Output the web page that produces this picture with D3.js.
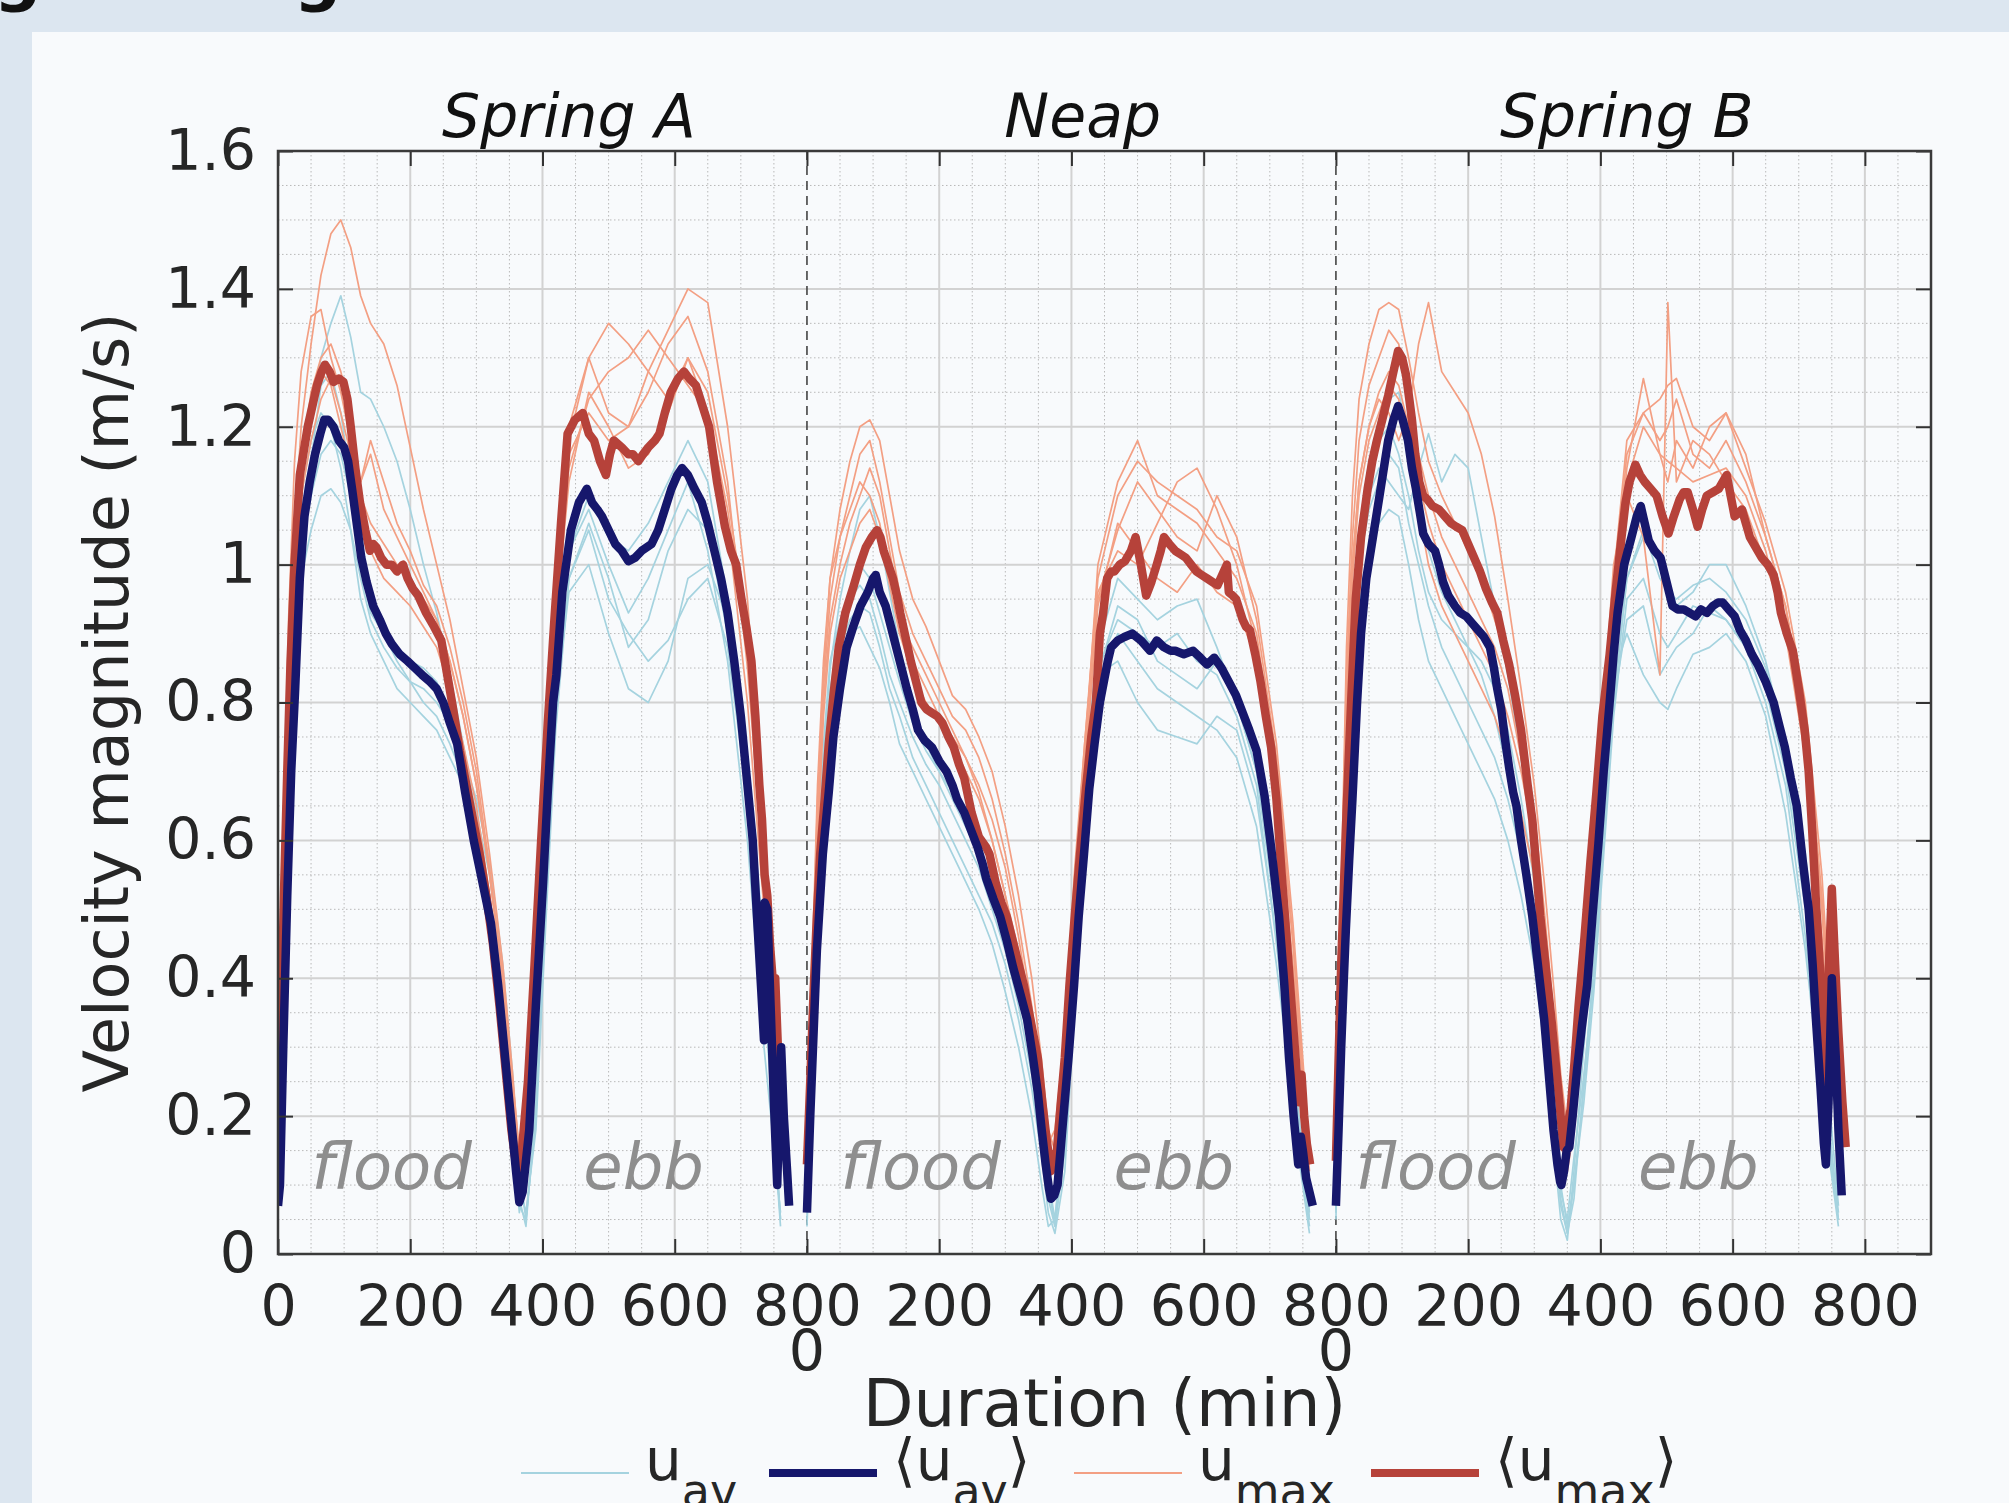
<!DOCTYPE html>
<html>
<head>
<meta charset="utf-8">
<script src="https://cdn.jsdelivr.net/npm/d3@7"></script>
<style>
  html, body { margin: 0; padding: 0; background: #dce6f0; }
  svg { display: block; }
</style>
</head>
<body>
<svg id="chart" width="2009" height="1503"></svg>
<script>
/* Velocity magnitude over a tidal cycle — Spring A / Neap / Spring B */

// ---- data ----
const panelNames = ['Spring A', 'Neap', 'Spring B'];
const panelStart = [0, 800, 1600];          // each panel is laid end to end (min)
const totalMinutes = 2500;
const titleAt = [440, 417, 440];            // local minute under each panel title
const yTicks = [0, 0.2, 0.4, 0.6, 0.8, 1, 1.2, 1.4, 1.6];
const xTickValues = [0, 200, 400, 600, 800, 1000, 1200, 1400, 1600, 1800, 2000, 2200, 2400];
const xTickLabels = ['0', '200', '400', '600', '800', '200', '400', '600', '800', '200', '400', '600', '800'];
const xZeroTicks = [800, 1600];             // second "0" label where panels meet
const phaseLabels = ['flood', 'ebb', 'flood', 'ebb', 'flood', 'ebb'];
const phaseAt = [172, 553, 972, 1355, 1751, 2148];

// mean curves, [local minute, m/s]
const meanAvA = [[0,0.07],[3,0.10],[8,0.30],[14,0.52],[20,0.70],[26,0.82],[33,0.98],[40,1.07],[48,1.12],[56,1.16],[64,1.19],[70,1.21],[76,1.21],[84,1.20],[92,1.18],[100,1.17],[106,1.15],[112,1.11],[119,1.06],[126,1.01],[134,0.975],[144,0.94],[154,0.92],[163,0.90],[172,0.885],[184,0.87],[196,0.86],[207,0.85],[218,0.84],[230,0.83],[240,0.82],[250,0.80],[260,0.77],[271,0.74],[283,0.67],[296,0.60],[309,0.54],[322,0.48],[333,0.39],[343,0.29],[352,0.20],[360,0.12],[365,0.075],[370,0.09],[380,0.18],[390,0.36],[401,0.54],[408,0.67],[416,0.80],[421,0.84],[430,0.96],[443,1.05],[455,1.09],[467,1.11],[475,1.09],[483,1.08],[490,1.07],[500,1.05],[510,1.03],[520,1.02],[530,1.005],[540,1.01],[550,1.02],[565,1.03],[575,1.05],[585,1.08],[595,1.11],[604,1.13],[611,1.14],[620,1.13],[630,1.11],[641,1.09],[650,1.06],[660,1.02],[670,0.98],[680,0.93],[690,0.86],[700,0.78],[710,0.68],[718,0.60],[725,0.48],[731,0.38],[735,0.31],[736,0.51],[740,0.50],[745,0.36],[750,0.22],[755,0.10],[758,0.20],[761,0.30],[765,0.20],[770,0.12],[773,0.07]];
const meanMaxA = [[0,0.14],[4,0.30],[9,0.52],[14,0.70],[19,0.86],[25,1.0],[33,1.13],[45,1.20],[59,1.26],[66,1.28],[71,1.29],[78,1.28],[84,1.265],[92,1.27],[99,1.265],[105,1.24],[110,1.20],[117,1.14],[124,1.09],[132,1.05],[139,1.02],[144,1.03],[149,1.025],[156,1.01],[164,1.0],[172,1.0],[180,0.99],[189,1.0],[196,0.98],[204,0.965],[212,0.955],[224,0.93],[236,0.91],[247,0.89],[256,0.84],[265,0.79],[275,0.73],[285,0.68],[295,0.63],[305,0.58],[315,0.52],[325,0.45],[335,0.36],[345,0.26],[353,0.18],[360,0.13],[364,0.12],[368,0.14],[378,0.25],[388,0.42],[398,0.60],[408,0.77],[418,0.92],[428,1.06],[438,1.19],[449,1.21],[461,1.22],[470,1.19],[478,1.18],[487,1.15],[496,1.13],[502,1.16],[508,1.18],[520,1.17],[530,1.16],[537,1.16],[545,1.15],[552,1.16],[560,1.17],[570,1.18],[577,1.19],[585,1.22],[594,1.25],[605,1.27],[614,1.28],[622,1.27],[632,1.26],[642,1.23],[652,1.20],[664,1.12],[676,1.055],[685,1.02],[693,1.0],[701,0.95],[709,0.905],[716,0.86],[722,0.78],[728,0.68],[732,0.63],[736,0.55],[740,0.52],[744,0.45],[748,0.40],[752,0.40],[756,0.30],[762,0.18],[768,0.14]];

const meanAvB = [[0,0.06],[5,0.20],[10,0.32],[15,0.44],[24,0.58],[33,0.67],[40,0.75],[50,0.82],[60,0.88],[70,0.91],[81,0.94],[92,0.96],[100,0.98],[104,0.985],[110,0.96],[119,0.94],[127,0.91],[135,0.88],[143,0.85],[151,0.82],[160,0.79],[168,0.76],[178,0.745],[189,0.735],[200,0.715],[211,0.70],[220,0.68],[227,0.66],[238,0.64],[248,0.615],[258,0.59],[266,0.565],[271,0.545],[282,0.515],[292,0.49],[302,0.455],[312,0.415],[322,0.38],[333,0.34],[341,0.29],[349,0.235],[355,0.18],[361,0.13],[366,0.095],[369,0.08],[374,0.085],[379,0.10],[387,0.19],[396,0.29],[404,0.39],[411,0.49],[419,0.58],[427,0.675],[435,0.74],[443,0.80],[449,0.83],[455,0.86],[460,0.88],[470,0.89],[480,0.895],[492,0.90],[505,0.89],[519,0.875],[529,0.89],[540,0.88],[550,0.875],[557,0.875],[570,0.87],[584,0.875],[595,0.865],[605,0.855],[616,0.865],[627,0.85],[638,0.83],[649,0.81],[659,0.785],[669,0.76],[680,0.73],[692,0.665],[702,0.59],[714,0.49],[722,0.39],[729,0.285],[736,0.20],[743,0.13],[747,0.17],[750,0.15],[755,0.11],[760,0.09],[765,0.07]];
const meanMaxB = [[0,0.13],[5,0.25],[10,0.38],[15,0.49],[20,0.58],[26,0.65],[33,0.74],[40,0.81],[48,0.88],[58,0.93],[71,0.97],[80,1.0],[89,1.025],[98,1.04],[106,1.05],[111,1.04],[116,1.02],[123,1.0],[130,0.98],[136,0.955],[141,0.93],[149,0.895],[157,0.86],[165,0.83],[173,0.80],[181,0.79],[189,0.785],[197,0.78],[205,0.77],[214,0.75],[222,0.735],[230,0.71],[238,0.69],[249,0.64],[260,0.605],[271,0.59],[276,0.58],[285,0.54],[294,0.51],[302,0.49],[315,0.44],[328,0.39],[338,0.34],[349,0.285],[356,0.22],[362,0.17],[366,0.14],[369,0.12],[373,0.14],[378,0.15],[384,0.22],[390,0.285],[397,0.39],[405,0.49],[413,0.58],[422,0.675],[430,0.75],[437,0.80],[443,0.90],[448,0.93],[454,0.98],[460,0.99],[465,0.99],[473,1.0],[481,1.005],[490,1.02],[497,1.04],[505,1.0],[513,0.955],[521,0.975],[529,1.0],[535,1.02],[540,1.04],[548,1.03],[557,1.02],[565,1.015],[573,1.01],[581,1.0],[589,0.99],[597,0.985],[605,0.98],[613,0.975],[621,0.97],[628,0.985],[635,1.0],[638,0.96],[644,0.955],[649,0.95],[654,0.935],[659,0.92],[664,0.91],[670,0.905],[678,0.87],[686,0.83],[694,0.78],[702,0.735],[710,0.66],[718,0.55],[726,0.45],[733,0.36],[739,0.285],[744,0.22],[748,0.26],[752,0.20],[756,0.16],[761,0.13]];

const meanAvC = [[0,0.07],[4,0.18],[8,0.30],[12,0.40],[15,0.47],[20,0.57],[25,0.66],[32,0.80],[38,0.90],[46,0.98],[56,1.04],[66,1.10],[79,1.18],[87,1.21],[94,1.23],[101,1.21],[109,1.18],[115,1.14],[121,1.11],[127,1.075],[132,1.045],[140,1.03],[150,1.02],[156,1.00],[162,0.975],[170,0.955],[180,0.94],[188,0.93],[197,0.925],[206,0.915],[215,0.905],[224,0.895],[233,0.88],[239,0.85],[244,0.82],[250,0.79],[256,0.745],[262,0.705],[268,0.67],[273,0.65],[280,0.60],[288,0.55],[297,0.49],[306,0.415],[315,0.34],[322,0.26],[329,0.18],[335,0.13],[339,0.105],[341,0.10],[345,0.12],[349,0.15],[353,0.155],[358,0.20],[365,0.27],[372,0.33],[380,0.39],[388,0.49],[397,0.595],[405,0.70],[414,0.80],[420,0.87],[426,0.93],[436,1.00],[447,1.04],[455,1.07],[461,1.085],[467,1.06],[473,1.035],[482,1.02],[491,1.01],[500,0.975],[509,0.94],[517,0.935],[526,0.935],[535,0.93],[544,0.925],[552,0.935],[561,0.93],[570,0.94],[578,0.945],[585,0.945],[594,0.935],[603,0.925],[611,0.905],[620,0.89],[629,0.87],[638,0.855],[650,0.83],[662,0.80],[671,0.765],[679,0.735],[688,0.69],[697,0.65],[706,0.57],[715,0.50],[721,0.42],[726,0.34],[733,0.24],[738,0.16],[741,0.13],[745,0.22],[750,0.40],[753,0.34],[756,0.285],[760,0.18],[765,0.085]];
const meanMaxC = [[0,0.135],[4,0.28],[8,0.42],[12,0.53],[16,0.64],[23,0.80],[30,0.95],[38,1.04],[48,1.11],[55,1.15],[62,1.18],[70,1.21],[79,1.245],[87,1.28],[94,1.31],[100,1.30],[106,1.275],[111,1.24],[115,1.21],[120,1.16],[126,1.12],[132,1.10],[138,1.095],[146,1.085],[156,1.08],[165,1.07],[174,1.06],[182,1.055],[191,1.05],[200,1.03],[209,1.01],[218,0.99],[227,0.965],[236,0.945],[244,0.93],[253,0.89],[262,0.855],[271,0.81],[280,0.76],[290,0.68],[297,0.63],[309,0.49],[318,0.41],[326,0.34],[333,0.27],[339,0.21],[344,0.155],[349,0.18],[355,0.21],[361,0.28],[367,0.36],[376,0.46],[385,0.57],[394,0.67],[403,0.78],[414,0.87],[423,0.96],[432,1.04],[438,1.09],[444,1.12],[453,1.145],[460,1.13],[467,1.12],[476,1.11],[485,1.10],[494,1.07],[503,1.045],[511,1.07],[520,1.095],[526,1.105],[532,1.105],[540,1.08],[547,1.055],[554,1.08],[561,1.10],[570,1.105],[579,1.11],[585,1.12],[591,1.13],[597,1.10],[603,1.07],[609,1.075],[614,1.08],[620,1.06],[626,1.04],[635,1.025],[644,1.01],[653,1.0],[662,0.985],[668,0.96],[673,0.93],[682,0.90],[691,0.875],[700,0.82],[709,0.76],[715,0.70],[720,0.62],[726,0.51],[732,0.415],[737,0.30],[740,0.25],[745,0.40],[750,0.53],[755,0.42],[760,0.32],[766,0.22],[771,0.155]];

// individual runs, sampled on a shared minute grid per panel
const gridAB = [0,8,16,25,35,50,65,80,95,110,125,140,160,180,200,220,240,260,280,300,320,340,355,365,375,390,405,420,440,470,500,530,560,590,620,650,680,710,735,760];
const gridC = [0,8,16,25,35,50,65,80,95,110,125,140,160,180,200,220,240,260,280,300,315,330,340,350,360,375,390,405,420,440,465,490,502,515,540,565,590,620,650,680,710,735,760];

const uavA = [
  [0.10,0.45,0.78,0.98,1.12,1.22,1.30,1.35,1.39,1.33,1.25,1.24,1.20,1.15,1.08,1.00,0.93,0.84,0.74,0.63,0.50,0.35,0.18,0.06,0.12,0.35,0.62,0.85,1.02,1.08,1.00,0.93,0.98,1.05,1.12,1.02,0.86,0.60,0.30,0.06],
  [0.08,0.35,0.65,0.85,0.98,1.05,1.10,1.11,1.09,1.05,0.98,0.92,0.88,0.85,0.83,0.82,0.80,0.77,0.72,0.66,0.57,0.42,0.26,0.12,0.05,0.20,0.50,0.78,0.98,1.05,0.95,0.90,0.86,0.89,0.95,0.98,0.88,0.66,0.40,0.05],
  [0.06,0.40,0.72,0.95,1.10,1.18,1.22,1.20,1.14,1.05,0.95,0.90,0.86,0.82,0.80,0.78,0.76,0.72,0.68,0.60,0.50,0.36,0.20,0.08,0.04,0.22,0.55,0.82,1.02,1.10,1.04,1.02,1.06,1.12,1.18,1.12,0.95,0.72,0.45,0.10],
  [0.09,0.42,0.75,0.93,1.05,1.15,1.26,1.28,1.22,1.12,1.00,0.93,0.90,0.88,0.86,0.85,0.83,0.78,0.72,0.64,0.55,0.40,0.24,0.10,0.06,0.18,0.48,0.76,0.98,1.06,0.98,0.88,0.92,1.02,1.08,1.05,0.90,0.68,0.38,0.04],
  [0.07,0.38,0.70,0.90,1.02,1.10,1.16,1.18,1.16,1.10,1.02,0.95,0.90,0.86,0.83,0.80,0.78,0.74,0.69,0.62,0.52,0.38,0.22,0.07,0.05,0.20,0.52,0.80,0.96,1.00,0.90,0.82,0.80,0.86,0.98,1.00,0.92,0.70,0.40,0.05]
];
const umaxA = [
  [0.16,0.50,0.85,1.05,1.20,1.32,1.42,1.48,1.50,1.46,1.39,1.35,1.32,1.26,1.17,1.08,1.00,0.92,0.82,0.72,0.58,0.42,0.26,0.14,0.20,0.45,0.72,0.98,1.20,1.30,1.22,1.20,1.25,1.32,1.36,1.28,1.12,0.85,0.55,0.15],
  [0.18,0.55,0.92,1.15,1.28,1.36,1.37,1.30,1.25,1.18,1.10,1.06,1.03,1.00,0.98,0.95,0.92,0.86,0.78,0.68,0.55,0.40,0.24,0.12,0.18,0.42,0.70,0.95,1.18,1.30,1.35,1.32,1.28,1.24,1.30,1.22,1.06,0.80,0.50,0.14],
  [0.14,0.45,0.80,1.00,1.12,1.22,1.28,1.26,1.20,1.14,1.12,1.18,1.12,1.06,1.02,0.97,0.94,0.88,0.80,0.70,0.56,0.40,0.25,0.15,0.22,0.46,0.72,0.96,1.16,1.22,1.18,1.20,1.28,1.34,1.40,1.38,1.20,0.95,0.62,0.18],
  [0.15,0.48,0.82,1.02,1.15,1.25,1.30,1.32,1.28,1.22,1.10,1.02,0.98,0.96,0.94,0.91,0.88,0.82,0.74,0.65,0.52,0.38,0.22,0.11,0.16,0.40,0.68,0.92,1.12,1.25,1.20,1.14,1.16,1.22,1.30,1.25,1.10,0.90,0.60,0.16],
  [0.15,0.46,0.78,0.98,1.10,1.18,1.24,1.27,1.22,1.16,1.12,1.16,1.08,1.04,1.00,0.96,0.92,0.86,0.78,0.68,0.55,0.40,0.24,0.13,0.18,0.42,0.70,0.94,1.14,1.24,1.28,1.30,1.34,1.30,1.26,1.22,1.08,0.88,0.58,0.15]
];
const uavB = [
  [0.06,0.30,0.55,0.72,0.85,0.95,1.02,1.08,1.10,1.04,0.96,0.88,0.80,0.74,0.70,0.66,0.62,0.58,0.52,0.46,0.38,0.28,0.18,0.10,0.04,0.15,0.40,0.66,0.85,0.92,0.90,0.88,0.90,0.86,0.84,0.78,0.68,0.45,0.25,0.05],
  [0.05,0.26,0.50,0.68,0.80,0.88,0.92,0.94,0.93,0.88,0.82,0.78,0.72,0.68,0.64,0.60,0.56,0.52,0.48,0.42,0.34,0.24,0.14,0.06,0.03,0.12,0.36,0.62,0.82,0.90,0.86,0.82,0.80,0.78,0.76,0.72,0.62,0.42,0.22,0.04],
  [0.07,0.32,0.58,0.74,0.86,0.92,0.96,1.00,0.98,0.93,0.88,0.83,0.77,0.73,0.70,0.67,0.63,0.59,0.54,0.47,0.40,0.30,0.20,0.11,0.05,0.18,0.44,0.70,0.88,0.98,0.95,0.92,0.94,0.95,0.88,0.80,0.70,0.50,0.28,0.06],
  [0.04,0.24,0.48,0.64,0.78,0.86,0.90,0.91,0.88,0.85,0.80,0.74,0.70,0.66,0.62,0.58,0.54,0.50,0.45,0.38,0.30,0.20,0.10,0.04,0.05,0.20,0.42,0.66,0.84,0.86,0.80,0.76,0.75,0.74,0.78,0.76,0.66,0.46,0.20,0.03],
  [0.06,0.28,0.52,0.70,0.82,0.90,0.95,0.97,0.95,0.90,0.84,0.80,0.75,0.71,0.68,0.64,0.60,0.56,0.50,0.44,0.36,0.26,0.16,0.08,0.04,0.16,0.40,0.64,0.84,0.94,0.92,0.86,0.84,0.82,0.86,0.80,0.70,0.48,0.26,0.05]
];
const umaxB = [
  [0.14,0.40,0.66,0.84,0.98,1.08,1.15,1.20,1.21,1.18,1.10,1.02,0.95,0.91,0.86,0.81,0.79,0.75,0.70,0.62,0.52,0.40,0.28,0.18,0.15,0.30,0.55,0.72,1.00,1.12,1.18,1.10,1.08,1.06,1.02,0.98,0.90,0.70,0.45,0.14],
  [0.12,0.36,0.62,0.80,0.92,1.00,1.06,1.10,1.14,1.10,1.02,0.94,0.86,0.82,0.78,0.75,0.72,0.68,0.63,0.56,0.46,0.34,0.22,0.14,0.12,0.26,0.50,0.70,0.95,1.05,1.12,1.08,1.04,1.02,1.10,1.04,0.92,0.72,0.46,0.12],
  [0.15,0.42,0.68,0.86,0.98,1.04,1.08,1.12,1.10,1.06,0.98,0.92,0.88,0.84,0.80,0.76,0.72,0.67,0.60,0.52,0.42,0.32,0.22,0.16,0.18,0.32,0.56,0.74,0.96,1.02,1.00,1.06,1.12,1.14,1.08,1.00,0.88,0.66,0.40,0.16],
  [0.13,0.38,0.60,0.78,0.90,0.98,1.02,1.06,1.08,1.04,0.97,0.90,0.84,0.80,0.77,0.74,0.70,0.66,0.60,0.52,0.44,0.34,0.24,0.15,0.14,0.28,0.52,0.70,0.94,1.06,1.02,0.98,0.96,1.00,0.96,0.94,0.86,0.68,0.42,0.13],
  [0.14,0.40,0.64,0.82,0.95,1.04,1.10,1.16,1.18,1.12,1.04,0.96,0.90,0.86,0.82,0.78,0.76,0.72,0.66,0.58,0.48,0.36,0.25,0.16,0.14,0.30,0.54,0.74,0.98,1.10,1.15,1.12,1.10,1.08,1.04,1.02,0.94,0.74,0.48,0.15]
];
const uavC = [
  [0.08,0.40,0.72,0.92,1.05,1.15,1.21,1.24,1.25,1.18,1.08,1.02,0.96,0.92,0.88,0.84,0.78,0.70,0.60,0.48,0.34,0.18,0.08,0.03,0.08,0.25,0.42,0.62,0.80,0.98,1.05,0.98,0.96,0.95,0.97,0.98,0.96,0.92,0.85,0.72,0.52,0.28,0.06],
  [0.06,0.36,0.66,0.88,1.00,1.10,1.14,1.12,1.10,1.08,1.14,1.19,1.12,1.16,1.14,1.04,0.94,0.84,0.72,0.58,0.40,0.22,0.10,0.04,0.10,0.22,0.38,0.58,0.78,0.95,0.98,0.90,0.88,0.90,0.94,0.93,0.92,0.88,0.80,0.68,0.46,0.24,0.05],
  [0.07,0.34,0.62,0.82,0.94,1.02,1.06,1.08,1.07,1.00,0.92,0.86,0.82,0.78,0.74,0.70,0.66,0.60,0.52,0.42,0.30,0.15,0.05,0.02,0.12,0.30,0.48,0.68,0.84,0.90,0.84,0.80,0.79,0.82,0.87,0.88,0.90,0.86,0.78,0.64,0.44,0.22,0.04],
  [0.05,0.38,0.70,0.90,1.02,1.12,1.18,1.20,1.16,1.10,1.02,0.96,0.92,0.90,0.88,0.86,0.82,0.76,0.66,0.54,0.36,0.20,0.09,0.05,0.14,0.26,0.40,0.60,0.80,0.98,1.04,1.00,0.98,0.94,0.96,1.00,1.00,0.94,0.86,0.74,0.58,0.34,0.07],
  [0.06,0.36,0.68,0.88,1.00,1.08,1.12,1.16,1.14,1.06,1.00,0.94,0.88,0.84,0.80,0.76,0.72,0.66,0.58,0.48,0.34,0.18,0.07,0.03,0.10,0.24,0.40,0.60,0.80,0.92,0.94,0.84,0.86,0.88,0.90,0.94,0.92,0.88,0.82,0.70,0.50,0.26,0.05]
];
const umaxC = [
  [0.15,0.52,0.88,1.10,1.24,1.32,1.37,1.38,1.37,1.30,1.22,1.15,1.10,1.06,1.02,0.98,0.92,0.86,0.76,0.64,0.50,0.34,0.22,0.15,0.20,0.34,0.50,0.72,0.92,1.12,1.20,1.16,1.15,1.14,1.12,1.13,1.14,1.10,1.02,0.90,0.72,0.46,0.15],
  [0.16,0.48,0.80,1.00,1.12,1.20,1.24,1.22,1.18,1.22,1.32,1.38,1.28,1.25,1.22,1.16,1.07,0.95,0.82,0.68,0.54,0.38,0.26,0.18,0.22,0.36,0.54,0.76,0.98,1.18,1.22,1.24,1.26,1.27,1.20,1.18,1.22,1.14,1.06,0.96,0.80,0.55,0.16],
  [0.14,0.46,0.80,1.00,1.12,1.20,1.25,1.28,1.26,1.20,1.12,1.06,1.00,0.96,0.92,0.88,0.84,0.78,0.70,0.60,0.46,0.30,0.20,0.14,0.22,0.38,0.58,0.80,1.00,1.10,1.04,0.84,1.38,1.12,1.18,1.16,1.12,1.08,1.00,0.92,0.76,0.50,0.17],
  [0.13,0.44,0.78,0.98,1.10,1.18,1.22,1.26,1.24,1.16,1.08,1.00,0.94,0.90,0.86,0.82,0.78,0.72,0.64,0.55,0.44,0.28,0.16,0.12,0.18,0.32,0.52,0.74,0.94,1.14,1.27,1.16,1.12,1.18,1.14,1.20,1.22,1.16,1.04,0.94,0.78,0.52,0.14],
  [0.14,0.50,0.84,1.04,1.18,1.26,1.30,1.34,1.32,1.24,1.16,1.10,1.04,1.00,0.96,0.92,0.88,0.82,0.72,0.62,0.48,0.32,0.20,0.14,0.20,0.34,0.52,0.74,0.96,1.16,1.22,1.18,1.20,1.24,1.16,1.14,1.18,1.12,1.04,0.94,0.78,0.50,0.15]
];

const panels = [
  { grid: gridAB, uav: uavA, umax: umaxA, meanAv: meanAvA, meanMax: meanMaxA },
  { grid: gridAB, uav: uavB, umax: umaxB, meanAv: meanAvB, meanMax: meanMaxB },
  { grid: gridC,  uav: uavC, umax: umaxC, meanAv: meanAvC, meanMax: meanMaxC }
];

// ---- styles ----
const COLORS = {
  uav:     '#a5d3df',
  meanAv:  '#16176c',
  umax:    '#f39f83',
  meanMax: '#b6423a',
  text:    '#262626',
  phase:   '#8e8e8e'
};
const FONT = '"DejaVu Sans", "Liberation Sans", sans-serif';

// ---- layout ----
const W = 2009, H = 1503;
const plot = { left: 278, right: 1931, top: 151, bottom: 1254 };

const svg = d3.select('#chart');

svg.append('rect').attr('width', W).attr('height', H).attr('fill', '#dce6f0');
svg.append('rect').attr('x', 32).attr('y', 32).attr('width', W - 32).attr('height', H - 32)
  .attr('fill', '#f8fafc');

// cut-off page heading (only its descenders reach into view)
svg.append('text').attr('x', -6).attr('y', -2).attr('font-family', FONT)
  .attr('font-weight', 'bold').attr('font-size', 66).attr('fill', '#111').text('g');
svg.append('text').attr('x', 294).attr('y', -2).attr('font-family', FONT)
  .attr('font-weight', 'bold').attr('font-size', 66).attr('fill', '#111').text('g');

const x = d3.scaleLinear().domain([0, totalMinutes]).range([plot.left, plot.right]);
const y = d3.scaleLinear().domain([0, 1.6]).range([plot.bottom, plot.top]);

svg.append('defs').append('clipPath').attr('id', 'plot-clip')
  .append('rect')
  .attr('x', plot.left).attr('y', plot.top)
  .attr('width', plot.right - plot.left).attr('height', plot.bottom - plot.top);

// ---- grid ----
const grid = svg.append('g').attr('class', 'grid');
const minorX = d3.range(0, totalMinutes + 1, 50).filter(d => d % 200 !== 0 && d < totalMinutes);
const minorY = d3.range(0, 33).map(i => i * 0.05).filter((d, i) => i % 4 !== 0);

grid.selectAll('.minor-x').data(minorX).join('line')
  .attr('x1', d => x(d)).attr('x2', d => x(d))
  .attr('y1', plot.top).attr('y2', plot.bottom)
  .attr('stroke', '#b9b9b9').attr('stroke-width', 1).attr('stroke-dasharray', '1.5,2.5');
grid.selectAll('.minor-y').data(minorY).join('line')
  .attr('x1', plot.left).attr('x2', plot.right)
  .attr('y1', d => y(d)).attr('y2', d => y(d))
  .attr('stroke', '#b9b9b9').attr('stroke-width', 1).attr('stroke-dasharray', '1.5,2.5');
grid.selectAll('.major-x').data(xTickValues.filter(d => d > 0 && !xZeroTicks.includes(d))).join('line')
  .attr('x1', d => x(d)).attr('x2', d => x(d))
  .attr('y1', plot.top).attr('y2', plot.bottom)
  .attr('stroke', '#d2d2d2').attr('stroke-width', 2);
grid.selectAll('.major-y').data(yTicks.filter(d => d > 0 && d < 1.6)).join('line')
  .attr('x1', plot.left).attr('x2', plot.right)
  .attr('y1', d => y(d)).attr('y2', d => y(d))
  .attr('stroke', '#d2d2d2').attr('stroke-width', 2);

// panel dividers
grid.selectAll('.divider').data(xZeroTicks).join('line')
  .attr('x1', d => x(d)).attr('x2', d => x(d))
  .attr('y1', plot.top).attr('y2', plot.bottom)
  .attr('stroke', '#444').attr('stroke-width', 1.6).attr('stroke-dasharray', '9,6');

// ---- phase labels ----
svg.append('g').selectAll('text').data(phaseLabels).join('text')
  .attr('x', (d, i) => x(phaseAt[i]))
  .attr('y', y(0.094))
  .attr('text-anchor', 'middle')
  .attr('font-family', FONT).attr('font-style', 'italic').attr('font-size', 64)
  .attr('fill', COLORS.phase)
  .text(d => d);

// ---- traces ----
const traces = svg.append('g').attr('clip-path', 'url(#plot-clip)');
const line = d3.line().x(d => x(d[0])).y(d => y(d[1]));

function drawRuns(runs, p, color) {
  const off = panelStart[p];
  const g = panels[p].grid;
  traces.append('g').selectAll('path')
    .data(runs.map(r => r.map((v, i) => [off + g[i], v])))
    .join('path')
    .attr('d', line)
    .attr('fill', 'none')
    .attr('stroke', color)
    .attr('stroke-width', 1.7)
    .attr('stroke-linejoin', 'round');
}
function drawMean(pts, p, color) {
  const off = panelStart[p];
  traces.append('path')
    .datum(pts.map(d => [off + d[0], d[1]]))
    .attr('d', line)
    .attr('fill', 'none')
    .attr('stroke', color)
    .attr('stroke-width', 8.5)
    .attr('stroke-linejoin', 'round');
}

panels.forEach((pan, p) => drawRuns(pan.uav, p, COLORS.uav));
panels.forEach((pan, p) => drawRuns(pan.umax, p, COLORS.umax));
panels.forEach((pan, p) => drawMean(pan.meanMax, p, COLORS.meanMax));
panels.forEach((pan, p) => drawMean(pan.meanAv, p, COLORS.meanAv));

// ---- axes ----
const tickLen = 15;
function styleAxis(g) {
  g.select('.domain').remove();
  g.selectAll('.tick line').attr('stroke', '#333').attr('stroke-width', 2);
  g.selectAll('.tick text').attr('fill', COLORS.text);
  g.attr('font-family', FONT).attr('font-size', 57);
}

svg.append('g').attr('transform', `translate(0,${plot.bottom})`)
  .call(d3.axisBottom(x).tickValues(xTickValues)
    .tickFormat((d, i) => xTickLabels[i]).tickSize(-tickLen).tickPadding(32))
  .call(styleAxis);
svg.append('g').attr('transform', `translate(0,${plot.top})`)
  .call(d3.axisTop(x).tickValues(xTickValues).tickFormat('').tickSize(-tickLen))
  .call(styleAxis);
svg.append('g').attr('transform', `translate(${plot.left},0)`)
  .call(d3.axisLeft(y).tickValues(yTicks).tickFormat(d3.format('~g')).tickSize(-tickLen).tickPadding(22))
  .call(styleAxis);
svg.append('g').attr('transform', `translate(${plot.right},0)`)
  .call(d3.axisRight(y).tickValues(yTicks).tickFormat('').tickSize(-tickLen))
  .call(styleAxis);

// second "0" where two panels meet
svg.append('g').selectAll('text').data(xZeroTicks).join('text')
  .attr('x', d => x(d)).attr('y', 1371)
  .attr('text-anchor', 'middle')
  .attr('font-family', FONT).attr('font-size', 57).attr('fill', COLORS.text)
  .text('0');

// frame
svg.append('rect')
  .attr('x', plot.left).attr('y', plot.top)
  .attr('width', plot.right - plot.left).attr('height', plot.bottom - plot.top)
  .attr('fill', 'none').attr('stroke', '#3a3a3a').attr('stroke-width', 2.5);

// panel titles
svg.append('g').selectAll('text').data(panelNames).join('text')
  .attr('x', (d, i) => x(panelStart[i] + titleAt[i]))
  .attr('y', 137)
  .attr('text-anchor', 'middle')
  .attr('font-family', FONT).attr('font-style', 'italic').attr('font-size', 60)
  .attr('fill', '#111')
  .text(d => d);

// axis titles
svg.append('text')
  .attr('x', (plot.left + plot.right) / 2).attr('y', 1426)
  .attr('text-anchor', 'middle')
  .attr('font-family', FONT).attr('font-size', 66).attr('fill', COLORS.text)
  .text('Duration (min)');
svg.append('text')
  .attr('transform', `translate(128,${(plot.top + plot.bottom) / 2}) rotate(-90)`)
  .attr('text-anchor', 'middle')
  .attr('font-family', FONT).attr('font-size', 62).attr('fill', COLORS.text)
  .text('Velocity magnitude (m/s)');

// ---- legend ----
const legendItems = [
  { sub: 'av',  mean: false, color: COLORS.uav },
  { sub: 'av',  mean: true,  color: COLORS.meanAv },
  { sub: 'max', mean: false, color: COLORS.umax },
  { sub: 'max', mean: true,  color: COLORS.meanMax }
];
const legendX = [521, 769, 1074, 1371];
const legendY = 1473;
const lg = svg.append('g');
legendItems.forEach((it, i) => {
  lg.append('line')
    .attr('x1', legendX[i]).attr('x2', legendX[i] + 108)
    .attr('y1', legendY).attr('y2', legendY)
    .attr('stroke', it.color).attr('stroke-width', it.mean ? 8 : 2.2);
  const t = lg.append('text')
    .attr('x', legendX[i] + 124).attr('y', 1480)
    .attr('font-family', FONT).attr('font-size', 58).attr('fill', COLORS.text);
  t.append('tspan').text(it.mean ? '\u27E8u' : 'u');
  t.append('tspan').attr('dy', 27).attr('font-size', 46).text(it.sub);
  if (it.mean) t.append('tspan').attr('dy', -27).text('\u27E9');
});
</script>
</body>
</html>
